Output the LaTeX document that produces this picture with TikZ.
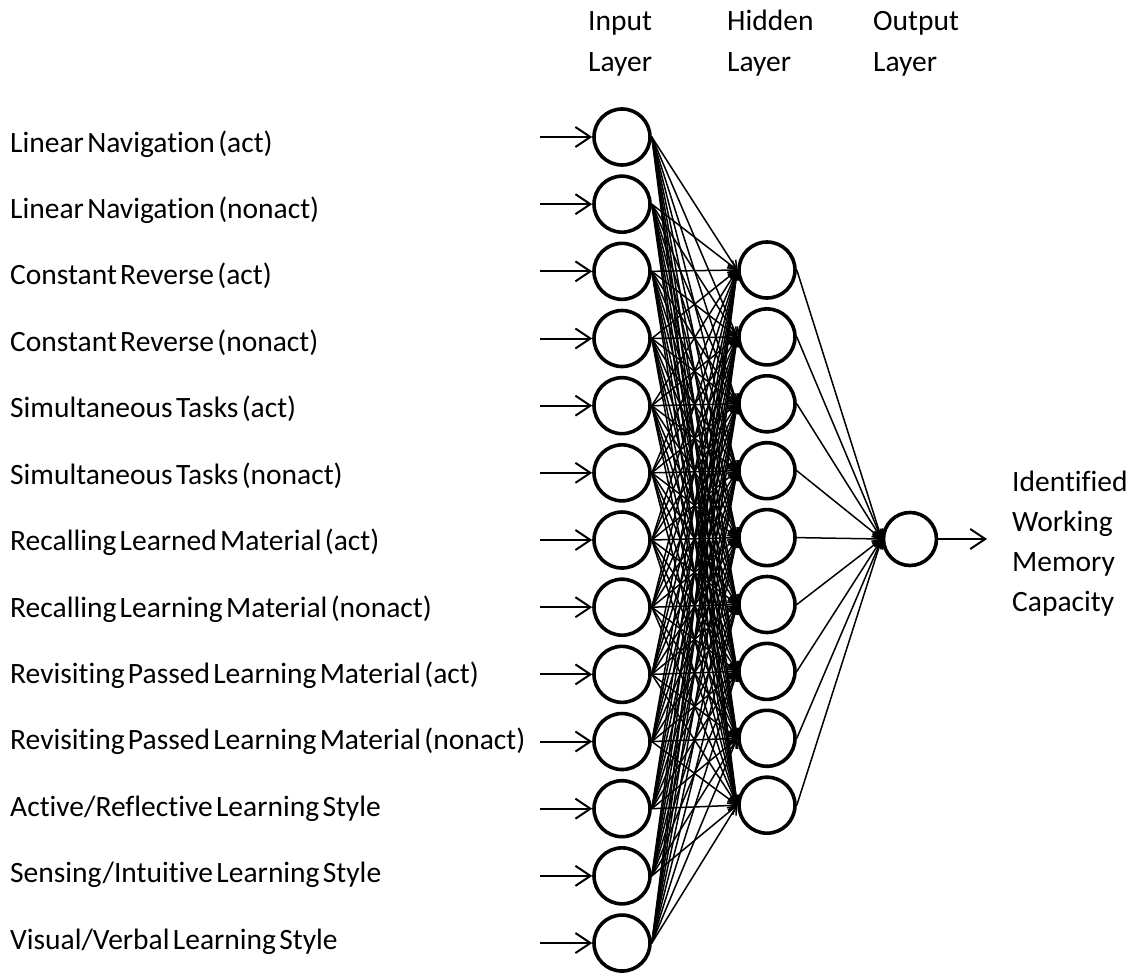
\documentclass[tikz,border=0pt]{standalone}
\usepackage{fontspec}
\setmainfont{Carlito}[WordSpace=0.5,Ligatures=NoCommon]
\usetikzlibrary{arrows.meta}
\begin{document}
\begin{tikzpicture}[x=1pt,y=-1pt,
  neuron/.style={circle,draw,line width=3.6pt,minimum size=56pt,inner sep=0pt},
  lbl/.style={anchor=base west,font=\fontsize{29.5}{34}\selectfont,inner sep=0pt},
  head/.style={anchor=base west,align=left,font=\fontsize{29.5}{42}\selectfont,inner sep=0pt},
  inarrow/.style={line width=2pt,-{Straight Barb[length=15pt,width=20pt,line width=2pt]}},
  conn/.style={line width=1.5pt,-{Straight Barb[length=8pt,width=9pt,line width=1.5pt]}}]
\useasboundingbox (0,0) rectangle (1133,974);
% headers (base = baseline of the last line)
\node[head] (hin) at (588,72) {Input\\Layer};
\node[head] (hhid) at (727,72) {Hidden\\Layer};
\node[head] (hout) at (873,72) {Output\\Layer};
% input layer
\foreach \i in {1,...,13} {
  \node[neuron] (I\i) at (622,{137+67.17*(\i-1)}) {};
}
% hidden layer
\foreach \j in {1,...,9} {
  \node[neuron] (H\j) at (767,{270+66.9*(\j-1)}) {};
}
% output
\node[neuron,minimum size=53pt] (O) at (910,539) {};
% labels
\foreach \t [count=\i] in {
  Linear Navigation (act),
  Linear Navigation (nonact),
  Constant Reverse (act),
  Constant Reverse (nonact),
  Simultaneous Tasks (act),
  Simultaneous Tasks (nonact),
  Recalling Learned Material (act),
  Recalling Learning Material (nonact),
  Revisiting Passed Learning Material (act),
  Revisiting Passed Learning Material (nonact),
  Active/Reflective Learning Style,
  Sensing/Intuitive Learning Style,
  Visual/Verbal Learning Style} {
  \node[lbl] (L\i) at (10,{152+66.44*(\i-1)}) {\t};
  \coordinate (S\i) at (540,{137+67.17*(\i-1)});
  \draw[inarrow] (S\i) -- (I\i.west);
}
% connections
\foreach \i in {1,...,13} {
  \foreach \j in {1,...,9} {
    \draw[conn] (I\i.east) -- (H\j.west);
  }
}
\foreach \j in {1,...,9} {
  \draw[conn] (H\j.east) -- (O.west);
}
\coordinate (E) at (987,539);
\draw[inarrow] (O.east) -- (E);
\node[anchor=base west,align=left,font=\fontsize{29.5}{40}\selectfont,inner sep=0pt] (res) at (1012,611) {Identified\\Working\\Memory\\Capacity};
\end{tikzpicture}
\end{document}
